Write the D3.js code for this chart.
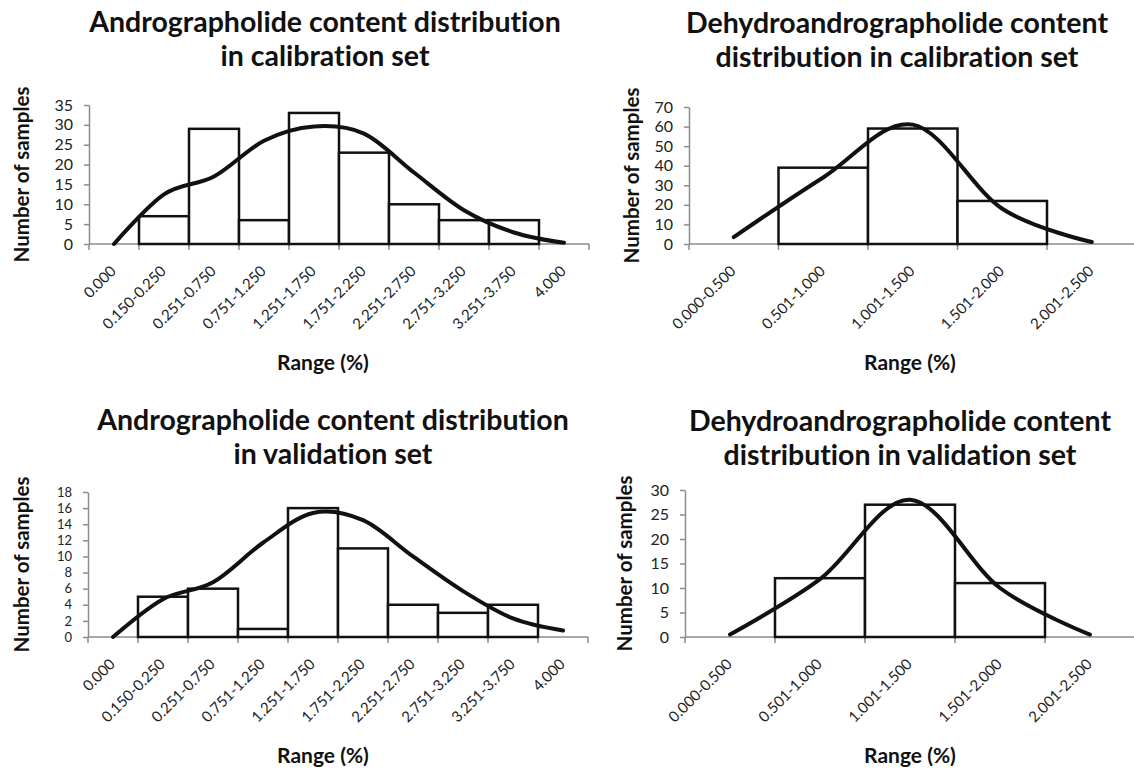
<!DOCTYPE html>
<html>
<head>
<meta charset="utf-8">
<script src="https://cdn.jsdelivr.net/npm/d3@7/dist/d3.min.js"></script>
<style>
  body { margin: 0; background: #fff; }
  svg { display: block; font-family: Lato, "Open Sans", sans-serif; font-variant-ligatures: none; }
</style>
</head>
<body>
<svg id="chart" width="1134" height="777"></svg>
<script>
// category labels
const androCats = ["0.000", "0.150-0.250", "0.251-0.750", "0.751-1.250", "1.251-1.750",
  "1.751-2.250", "2.251-2.750", "2.751-3.250", "3.251-3.750", "4.000"];
const dehydroCats = ["0.000-0.500", "0.501-1.000", "1.001-1.500", "1.501-2.000", "2.001-2.500"];

// histogram counts (null = no bar)
const androCalBars = [null, 7, 29, 6, 33, 23, 10, 6, 6, null];
const androValBars = [null, 5, 6, 1, 16, 11, 4, 3, 4, null];
const dehydroCalBars = [null, 39, 59, 22, null];
const dehydroValBars = [null, 12, 27, 11, null];

// fitted curve at each category centre
const androCalCurve = [0, 12.5, 17, 26, 29.6, 27.8, 18, 8.5, 2.9, 0.3];
const androValCurve = [0, 4.7, 6.8, 11.7, 15.4, 14.5, 10, 5.7, 2.3, 0.8];
const dehydroCalCurve = [3.5, 34, 61, 18, 1];
const dehydroValCurve = [0.5, 11.8, 28, 10, 0.5];

// panels (layout only)
const panels = [
  { title: ["Andrographolide content distribution", "in calibration set"], tx: 325, ty: 32,
    cats: androCats, bars: androCalBars, curve: androCalCurve,
    x0: 89, bw: 50, yTop: 105, yBot: 244, ymax: 35, step: 5, yfs: 16, ytx: 22, xtx: 323 },
  { title: ["Dehydroandrographolide content", "distribution in calibration set"], tx: 897, ty: 33,
    cats: dehydroCats, bars: dehydroCalBars, curve: dehydroCalCurve,
    x0: 689, bw: 89.5, yTop: 107, yBot: 244, ymax: 70, step: 10, yfs: 16, ytx: 632, xtx: 910 },
  { title: ["Andrographolide content distribution", "in validation set"], tx: 333, ty: 430,
    cats: androCats, bars: androValBars, curve: androValCurve,
    x0: 88, bw: 50, yTop: 492, yBot: 637, ymax: 18, step: 2, yfs: 13, ytx: 22, xtx: 323 },
  { title: ["Dehydroandrographolide content", "distribution in validation set"], tx: 900, ty: 431,
    cats: dehydroCats, bars: dehydroValBars, curve: dehydroValCurve,
    x0: 685, bw: 90, yTop: 490, yBot: 637, ymax: 30, step: 5, yfs: 16, ytx: 625, xtx: 910 }
];

const svg = d3.select("#chart");
svg.append("rect").attr("width", 1134).attr("height", 777).attr("fill", "#fff");

panels.forEach(p => {
  const g = svg.append("g");
  const n = p.cats.length;

  const x = d3.scaleBand().domain(p.cats).range([p.x0, p.x0 + n * p.bw]).padding(0);
  const y = d3.scaleLinear().domain([0, p.ymax]).range([p.yBot, p.yTop]);

  // title, two lines
  g.append("text")
    .attr("x", p.tx).attr("y", p.ty)
    .attr("text-anchor", "middle")
    .style("font-size", "28.5px").style("font-weight", "bold").style("fill", "#111")
    .selectAll("tspan").data(p.title).enter().append("tspan")
    .attr("x", p.tx).attr("dy", (d, i) => i === 0 ? 0 : 34)
    .text(d => d);

  // y axis
  const yAxis = d3.axisLeft(y)
    .tickValues(d3.range(0, p.ymax + p.step / 2, p.step))
    .tickSize(5).tickSizeOuter(0).tickPadding(11);
  const ya = g.append("g").attr("transform", `translate(${p.x0},0)`).call(yAxis);
  ya.select(".domain").attr("stroke", "#8c8c8c").attr("stroke-width", 1.5);
  ya.selectAll(".tick line").attr("stroke", "#8c8c8c").attr("stroke-width", 1.5);
  ya.selectAll(".tick text").style("font-size", p.yfs + "px").style("font-family", "Lato, sans-serif").attr("fill", "#222");

  // x axis: line + ticks on category boundaries
  const xEnd = x.range()[1];
  g.append("line")
    .attr("x1", p.x0).attr("x2", xEnd).attr("y1", p.yBot).attr("y2", p.yBot)
    .attr("stroke", "#8c8c8c").attr("stroke-width", 1.5);
  const bounds = p.cats.map(c => x(c)).concat([xEnd]);
  g.selectAll(".xtick").data(bounds).enter().append("line")
    .attr("x1", d => d).attr("x2", d => d)
    .attr("y1", p.yBot).attr("y2", p.yBot + 6)
    .attr("stroke", "#8c8c8c").attr("stroke-width", 1.5);

  // rotated category labels
  g.selectAll(".xlab").data(p.cats).enter().append("text")
    .attr("transform", d => `translate(${x(d) + x.bandwidth() / 2 + 3},${p.yBot + 28}) rotate(-45)`)
    .attr("text-anchor", "end")
    .style("font-size", "15px").attr("fill", "#222")
    .text(d => d);

  // bars
  const barData = p.cats.map((c, i) => ({ c: c, v: p.bars[i] })).filter(d => d.v != null);
  g.selectAll(".bar").data(barData).enter().append("rect")
    .attr("x", d => x(d.c)).attr("width", x.bandwidth())
    .attr("y", d => y(d.v)).attr("height", d => p.yBot - y(d.v))
    .attr("fill", "#fff").attr("stroke", "#111").attr("stroke-width", 2.5);

  // smoothed curve
  const line = d3.line()
    .x((d, i) => x(p.cats[i]) + x.bandwidth() / 2)
    .y(d => y(d))
    .curve(d3.curveCardinal.tension(0));
  g.append("path").datum(p.curve)
    .attr("d", line)
    .attr("fill", "none").attr("stroke", "#111").attr("stroke-width", 4)
    .attr("stroke-linecap", "round");

  // axis titles
  g.append("text")
    .attr("transform", `translate(${p.ytx},${(p.yTop + p.yBot) / 2}) rotate(-90)`)
    .attr("text-anchor", "middle").attr("dy", "0.35em")
    .style("font-size", "20.5px").style("font-weight", "bold").attr("fill", "#111")
    .text("Number of samples");
  g.append("text")
    .attr("x", p.xtx).attr("y", p.yBot + 126)
    .attr("text-anchor", "middle")
    .style("font-size", "21px").style("font-weight", "bold").attr("fill", "#111")
    .text("Range (%)");
});
</script>
</body>
</html>
